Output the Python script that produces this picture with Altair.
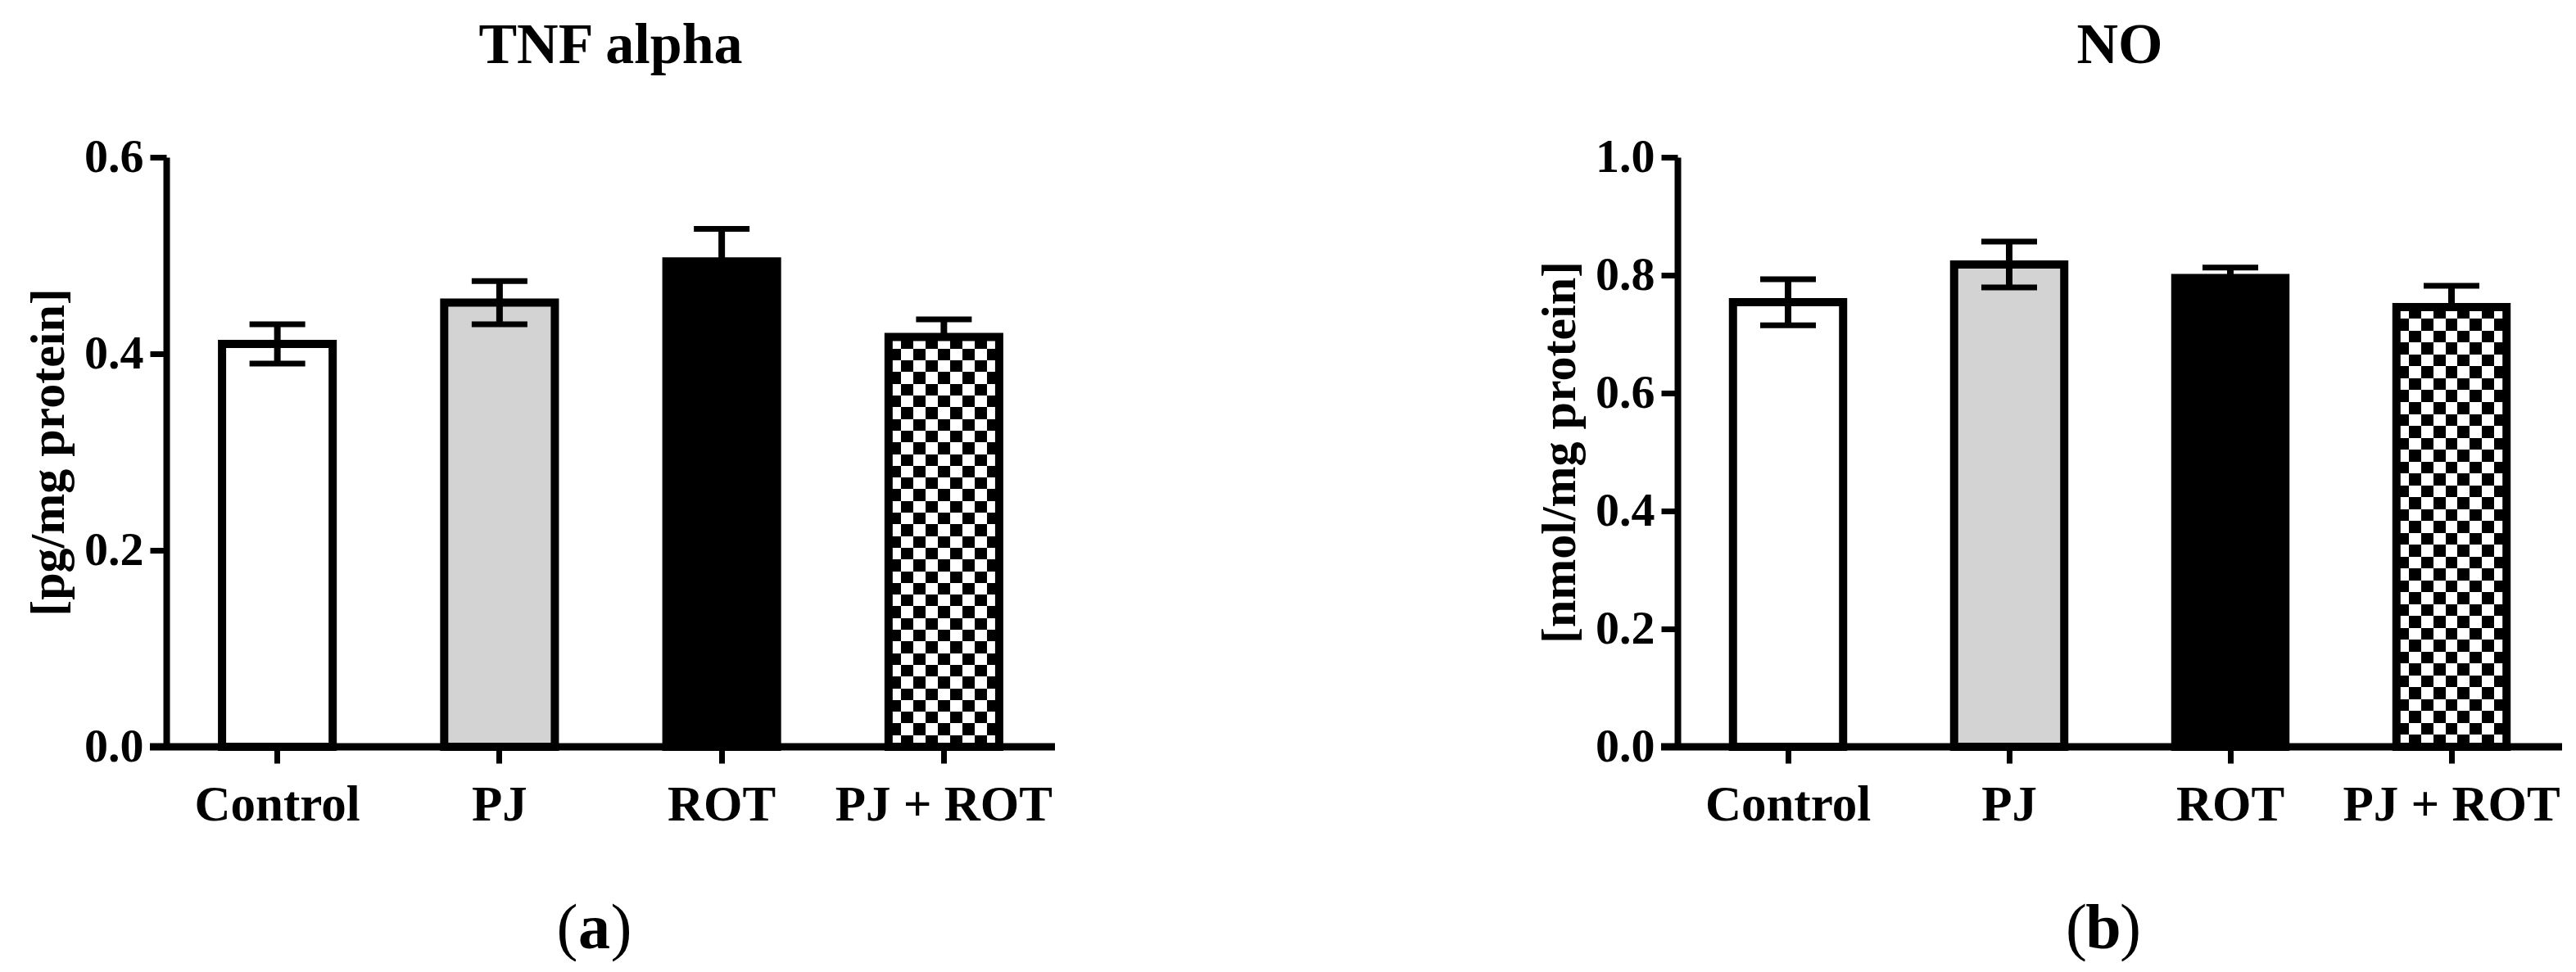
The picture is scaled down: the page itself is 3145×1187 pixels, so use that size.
import altair as alt
import pandas as pd

# ---- data ----
groups = ["Control", "PJ", "ROT", "PJ + ROT"]
fills = ["white", "#d3d3d3", "black", "white"]
lower_shown = [True, True, False, False]

tnf_mean = [0.410, 0.452, 0.494, 0.417]
tnf_err = [0.020, 0.022, 0.033, 0.018]
tnf_ticks = [0.0, 0.2, 0.4, 0.6]

no_mean = [0.754, 0.818, 0.795, 0.746]
no_err = [0.039, 0.039, 0.018, 0.036]
no_ticks = [0.0, 0.2, 0.4, 0.6, 0.8, 1.0]

FONT = "Liberation Serif"
H = 720
SQ = 14.5  # checker square size in px


def stripes(n, c1, c2, horizontal):
    stops = []
    for k in range(n):
        c = c1 if k % 2 == 0 else c2
        stops.append({"offset": k / n, "color": c})
        stops.append({"offset": (k + 1) / n, "color": c})
    g = {"gradient": "linear", "stops": stops}
    if horizontal:
        g.update({"x1": 0, "y1": 0, "x2": 1, "y2": 0})
    else:
        g.update({"x1": 0, "y1": 0, "x2": 0, "y2": 1})
    return g


def panel(means, errs, ticks, ymax, title, ytitle, letter, W):
    lo = [m - e if s else m for m, e, s in zip(means, errs, lower_shown)]
    hi = [m + e for m, e in zip(means, errs)]
    df = pd.DataFrame({"group": groups, "mean": means, "lo": lo, "hi": hi,
                       "fill": fills, "lower": lower_shown})
    one = pd.DataFrame({"a": [0]})

    xenc = alt.X("group:N", sort=groups,
                 scale=alt.Scale(paddingInner=0.502, paddingOuter=0.251),
                 axis=alt.Axis(title=None, labelAngle=0, domain=False,
                               tickWidth=7, tickSize=20, tickColor="black",
                               labelFont=FONT, labelFontSize=61,
                               labelFontWeight="bold", labelColor="black",
                               labelPadding=21, labelLimit=0))

    def Y(field):
        return alt.Y(f"{field}:Q",
                     scale=alt.Scale(domain=[0, ymax], nice=False, zero=True),
                     axis=alt.Axis(values=ticks, format=".1f", title=ytitle,
                                   titleFont=FONT, titleFontSize=60,
                                   titleFontWeight="bold", titleColor="black",
                                   titlePadding=12, domainWidth=8,
                                   domainColor="black", tickWidth=7,
                                   tickSize=20, tickColor="black",
                                   labelFont=FONT, labelFontSize=58,
                                   labelFontWeight="bold", labelColor="black",
                                   labelPadding=8, grid=False))

    base = alt.Chart(df)
    bars = base.mark_bar(strokeWidth=0).encode(
        x=xenc, y=Y("mean"), fill=alt.Fill("fill:N", scale=None))

    chk_val = means[3]
    nrows = max(1, round(chk_val / ymax * H / SQ))
    bw = W / 4 * (1 - 0.502)
    ncols = max(1, round(bw / SQ))
    chk = base.transform_filter(alt.datum.group == "PJ + ROT")
    rows = chk.mark_bar(fill=stripes(nrows, "black", "white", False),
                        strokeWidth=0).encode(x=xenc, y=Y("mean"))
    cols = chk.mark_bar(fill=stripes(ncols, "white", "black", True),
                        strokeWidth=0, blend="difference").encode(
        x=xenc, y=Y("mean"))

    outline = base.mark_bar(fill="white", fillOpacity=0, stroke="black",
                            strokeWidth=10).encode(x=xenc, y=Y("mean"))

    stem = base.mark_rule(color="black", strokeWidth=8).encode(
        x=xenc, y=Y("lo"), y2="hi:Q")
    cap_hi = base.mark_tick(color="black", size=68, thickness=7,
                            opacity=1).encode(x=xenc, y=Y("hi"))
    cap_lo = base.transform_filter(alt.datum.lower).mark_tick(
        color="black", size=68, thickness=7, opacity=1).encode(
        x=xenc, y=Y("lo"))

    xline = alt.Chart(one).mark_rule(color="black", strokeWidth=9).encode(
        x=alt.value(-20), x2=alt.value(W), y=alt.value(H))

    ttl = alt.Chart(one).mark_text(text=title, font=FONT, fontSize=70,
                                   fontWeight="bold", align="center",
                                   baseline="alphabetic", color="black").encode(
        x=alt.value(W / 2), y=alt.value(-115))

    cx = W / 2 - 20
    ly = H + 246
    lp = alt.Chart(one).mark_text(text="(", font=FONT, fontSize=78,
                                  align="right", baseline="alphabetic",
                                  color="black").encode(
        x=alt.value(cx - 20), y=alt.value(ly))
    lm = alt.Chart(one).mark_text(text=letter, font=FONT, fontSize=78,
                                  fontWeight="bold", align="center",
                                  baseline="alphabetic", color="black").encode(
        x=alt.value(cx), y=alt.value(ly))
    rp = alt.Chart(one).mark_text(text=")", font=FONT, fontSize=78,
                                  align="left", baseline="alphabetic",
                                  color="black").encode(
        x=alt.value(cx + 20), y=alt.value(ly))

    return alt.layer(bars, rows, cols, outline, stem, cap_hi, cap_lo, xline,
                     ttl, lp, lm, rp).properties(width=W, height=H)


pa = panel(tnf_mean, tnf_err, tnf_ticks, 0.6, "TNF alpha",
           "[pg/mg protein]", "a", 1085)
pb = panel(no_mean, no_err, no_ticks, 1.0, "NO",
           "[nmol/mg protein]", "b", 1080)

chart = alt.hconcat(pa, pb, spacing=581).properties(
    padding={"left": 21, "top": 13, "right": 0, "bottom": 0},
    background="white",
).configure_view(stroke=None)

chart.save("out.html", embed_options={"renderer": "svg", "actions": False})
